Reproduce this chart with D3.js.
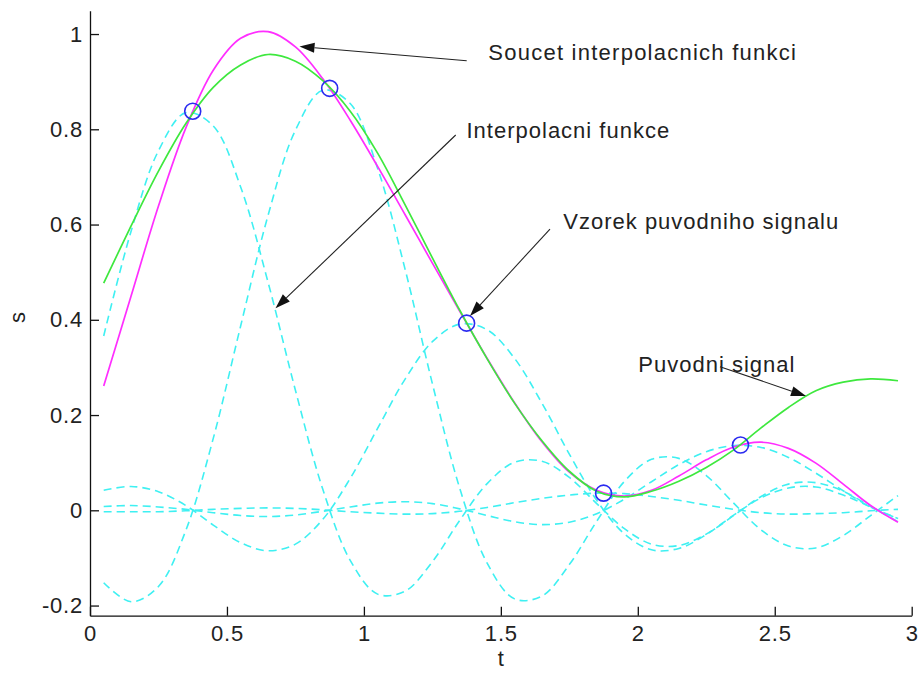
<!DOCTYPE html>
<html><head><meta charset="utf-8">
<script src="https://cdn.jsdelivr.net/npm/d3@7"></script>
<style>body{margin:0;background:#fff}</style>
</head><body><svg id="c" width="922" height="675"></svg>
<script>
// ---- data ----
const tGrid = [0.05,0.15,0.25,0.35,0.45,0.55,0.65,0.75,0.85,0.95,1.05,1.15,1.25,1.35,1.45,1.55,1.65,1.75,1.85,1.95,2.05,2.15,2.25,2.35,2.45,2.55,2.65,2.75,2.85,2.95];
const interpFunc1 = [0.366,0.586,0.755,0.835,0.807,0.679,0.479,0.252,0.044,-0.105,-0.176,-0.170,-0.108,-0.021,0.056,0.101,0.103,0.069,0.014,-0.038,-0.071,-0.074,-0.050,-0.011,0.029,0.055,0.058,0.040,0.008,-0.024];
const interpFunc2 = [-0.152,-0.192,-0.160,-0.042,0.151,0.387,0.619,0.798,0.882,0.854,0.718,0.507,0.266,0.046,-0.111,-0.186,-0.180,-0.114,-0.023,0.060,0.107,0.109,0.073,0.015,-0.041,-0.075,-0.079,-0.053,-0.011,0.031];
const interpFunc3 = [0.042,0.050,0.039,0.010,-0.031,-0.068,-0.085,-0.071,-0.019,0.067,0.172,0.275,0.354,0.391,0.379,0.319,0.225,0.118,0.021,-0.049,-0.083,-0.080,-0.051,-0.010,0.026,0.047,0.049,0.032,0.007,-0.018];
const interpFunc4 = [-0.003,-0.003,-0.003,-0.001,0.002,0.004,0.005,0.004,0.001,-0.003,-0.006,-0.008,-0.007,-0.002,0.006,0.016,0.025,0.032,0.036,0.035,0.029,0.021,0.011,0.002,-0.005,-0.008,-0.007,-0.005,-0.001,0.002];
const interpFunc5 = [0.008,0.010,0.007,0.002,-0.005,-0.011,-0.013,-0.010,-0.002,0.007,0.015,0.018,0.014,0.003,-0.011,-0.024,-0.030,-0.025,-0.007,0.023,0.060,0.096,0.123,0.136,0.132,0.111,0.078,0.041,0.007,-0.017];
const sumValues = [0.261,0.450,0.639,0.803,0.924,0.991,1.005,0.973,0.906,0.819,0.722,0.621,0.519,0.418,0.319,0.226,0.144,0.080,0.042,0.030,0.042,0.072,0.106,0.133,0.143,0.130,0.099,0.055,0.010,-0.025];
const originalSignal = [0.477,0.597,0.712,0.812,0.888,0.935,0.957,0.943,0.902,0.838,0.750,0.642,0.530,0.420,0.318,0.225,0.146,0.082,0.040,0.028,0.040,0.061,0.090,0.127,0.173,0.216,0.251,0.269,0.276,0.272];
const sampleT = [0.375,0.875,1.375,1.875,2.375];
const sampleS = [0.838,0.886,0.393,0.036,0.137];
const xTicks = [0,0.5,1,1.5,2,2.5,3];
const xTickLabels = ["0","0.5","1","1.5","2","2.5","3"];
const yTicks = [-0.2,0,0.2,0.4,0.6,0.8,1];
const yTickLabels = ["-0.2","0","0.2","0.4","0.6","0.8","1"];
const annTexts = ["Soucet interpolacnich funkci","Interpolacni funkce","Vzorek puvodniho signalu","Puvodni signal"];
const annTextAt = [[1.454,0.9454],[1.3746,0.781],[1.728,0.590],[2.0018,0.291]];
const annTail = [[1.3753,0.9439],[1.3352,0.788],[1.6794,0.5906],[2.3001,0.3015]];
const annTip = [[0.7649,0.9738],[0.6773,0.4241],[1.3874,0.4079],[2.6141,0.240]];

// ---- drawing ----
const svg = d3.select('#c');
svg.append('rect').attr('width',922).attr('height',675).attr('fill','#fff');
const x = d3.scaleLinear([0,3],[90,911.7]);
const y = d3.scaleLinear([-0.2213,1.049],[615.7,10.7]);
const FONT = '"Liberation Sans", Arial, sans-serif';

const line = d3.line().x((d,i)=>x(tGrid[i])).y(d=>y(d)).curve(d3.curveCatmullRom.alpha(0.5));

const plot = svg.append('g');
[interpFunc1,interpFunc2,interpFunc3,interpFunc4,interpFunc5].forEach(arr=>{
  plot.append('path').attr('d', line(arr)).attr('fill','none')
    .attr('stroke','#3ff0f2').attr('stroke-width',1.6).attr('stroke-dasharray','8,5');
});
plot.append('path').attr('d', line(sumValues)).attr('fill','none')
  .attr('stroke','#ff2eff').attr('stroke-width',1.7);
plot.append('path').attr('d', line(originalSignal)).attr('fill','none')
  .attr('stroke','#3ee83e').attr('stroke-width',1.7);
plot.selectAll('circle.s').data(sampleT).enter().append('circle')
  .attr('cx',d=>x(d)).attr('cy',(d,i)=>y(sampleS[i])).attr('r',8)
  .attr('fill','none').attr('stroke','#2b2bf0').attr('stroke-width',1.6);

// axes
const gx = svg.append('g').attr('transform',`translate(0,${y(-0.2213)})`)
  .call(d3.axisBottom(x).tickValues(xTicks).tickFormat((d,i)=>xTickLabels[i])
    .tickSizeInner(-9).tickSizeOuter(0).tickPadding(10));
const gy = svg.append('g').attr('transform',`translate(${x(0)},0)`)
  .call(d3.axisLeft(y).tickValues(yTicks).tickFormat((d,i)=>yTickLabels[i])
    .tickSizeInner(-9).tickSizeOuter(0).tickPadding(7));
[gx,gy].forEach(g=>{
  g.select('.domain').attr('stroke','#111').attr('stroke-width',1.3);
  g.selectAll('.tick line').attr('stroke','#111').attr('stroke-width',1.3);
  g.selectAll('.tick text').attr('fill','#222').style('font-family',FONT)
    .style('font-size','22px').style('letter-spacing','0.8px');
});

svg.append('text').attr('x',x(1.5)).attr('y',666).attr('text-anchor','middle')
  .style('font-family',FONT).style('font-size','22px').attr('fill','#222').text('t');
svg.append('text').attr('transform',`translate(25,${y(0.405)}) rotate(-90)`).attr('text-anchor','middle')
  .style('font-family',FONT).style('font-size','22px').attr('fill','#222').text('s');

// annotations
const ann = svg.append('g');
annTexts.forEach((txt,i)=>{
  ann.append('text').attr('x',x(annTextAt[i][0])).attr('y',y(annTextAt[i][1]))
    .style('font-family',FONT).style('font-size','22px').style('letter-spacing', i===0 ? '1.25px' : '1px')
    .attr('fill','#222').text(txt);
});
annTexts.forEach((txt,i)=>{
  const x1=x(annTail[i][0]), y1=y(annTail[i][1]), x2=x(annTip[i][0]), y2=y(annTip[i][1]);
  const dx=x2-x1, dy=y2-y1, L=Math.hypot(dx,dy), ux=dx/L, uy=dy/L;
  const hl=15, hw=5;
  const bx=x2-ux*hl, by=y2-uy*hl;
  ann.append('line').attr('x1',x1).attr('y1',y1).attr('x2',bx).attr('y2',by)
    .attr('stroke','#222').attr('stroke-width',1.1);
  ann.append('path').attr('d',`M${x2},${y2}L${bx-uy*hw},${by+ux*hw}L${bx+uy*hw},${by-ux*hw}Z`)
    .attr('fill','#111');
});
</script></body></html>
